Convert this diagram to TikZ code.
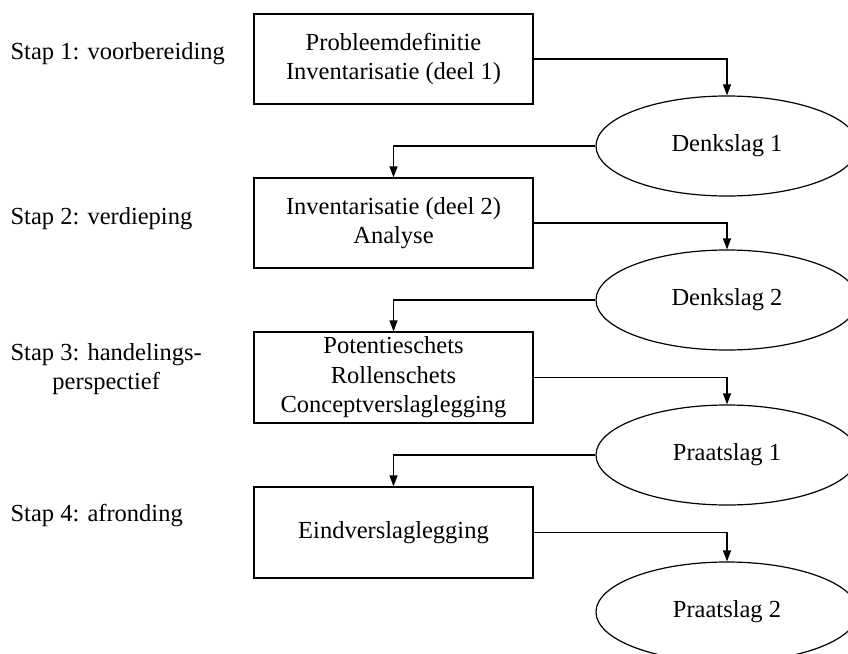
\documentclass[tikz,border=0pt]{standalone}
\usepackage{fontspec}
\setmainfont{Liberation Serif}
\usetikzlibrary{shapes.geometric,arrows.meta}
\begin{document}
\begin{tikzpicture}[x=1pt,y=-1pt,
  font=\fontsize{24.5}{29.5}\selectfont,
  line width=1.2pt,
  box/.style={draw, minimum width=279pt, minimum height=90pt, inner sep=0pt, align=center},
  oval/.style={draw, ellipse, minimum width=262pt, minimum height=100pt, inner sep=0pt},
  conn/.style={-{Triangle[length=11pt,width=8pt]}},
  lbl/.style={anchor=west, align=center, inner sep=0pt}]
\useasboundingbox (0,0) rectangle (848,653);
\clip (0,0) rectangle (848,653);
\fill[white] (0,0) rectangle (848,653);

% step labels
\node[lbl] (s1) at (10,54) {Stap 1: voorbereiding};
\node[lbl] (s2) at (10,219) {Stap 2: verdieping};
\node[lbl] (s3) at (10,369) {Stap 3: handelings-\\perspectief};
\node[lbl] (s4) at (10,516) {Stap 4: afronding};

% boxes
\node[box] (b1) at (393.5,59) {Probleemdefinitie\\Inventarisatie (deel 1)};
\node[box] (b2) at (393.5,223) {Inventarisatie (deel 2)\\Analyse};
\node[box, minimum height=91pt] (b3) at (393.5,377.5) {Potentieschets\\Rollenschets\\Conceptverslaglegging};
\node[box, minimum height=91pt] (b4) at (393.5,532.5) {Eindverslaglegging};

% ellipses
\node[oval] (e1) at (727,146) {Denkslag 1};
\node[oval] (e2) at (727,300) {Denkslag 2};
\node[oval] (e3) at (727,455) {Praatslag 1};
\node[oval] (e4) at (727,612) {Praatslag 2};

% connectors
\draw[conn] (b1.east) -| (e1.north);
\draw[conn] (e1.west) -| (b2.north);
\draw[conn] (b2.east) -| (e2.north);
\draw[conn] (e2.west) -| (b3.north);
\draw[conn] (b3.east) -| (e3.north);
\draw[conn] (e3.west) -| (b4.north);
\draw[conn] (b4.east) -| (e4.north);
\end{tikzpicture}
\end{document}
